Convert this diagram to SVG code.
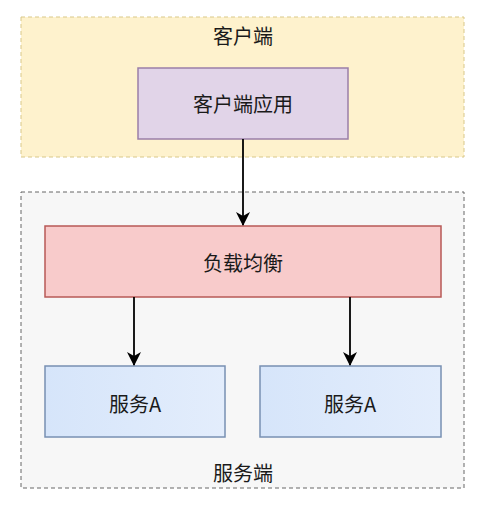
<svg xmlns="http://www.w3.org/2000/svg" width="479" height="506" viewBox="0 0 479 506">
<style>
text{font-family:"Noto Sans CJK SC","Noto Sans",sans-serif;font-size:20px;fill:#1a1a1a;text-anchor:middle;dominant-baseline:central}
.edge{stroke:#000;stroke-width:1.8;fill:none}
</style>
<defs>
<marker id="arr" viewBox="0 0 14 14" refX="13" refY="7" markerWidth="14" markerHeight="14" markerUnits="userSpaceOnUse" orient="auto">
<path d="M0,0 L14,7 L0,14 L4,7 Z" fill="#000"/>
</marker>
<linearGradient id="blue" x1="0" y1="0" x2="1" y2="0">
<stop offset="0" stop-color="#d6e5fa"/>
<stop offset="1" stop-color="#e3edfc"/>
</linearGradient>
</defs>
<rect width="479" height="506" fill="#fff"/>
<g id="client">
<rect x="21" y="17" width="443" height="140" fill="#fef2cd" stroke="#d9c889" stroke-dasharray="4 3"/>
<text x="243" y="35">客户端</text>
</g>
<g id="server">
<rect x="21" y="192" width="443" height="296" fill="#f7f7f7" stroke="#666" stroke-dasharray="4 3"/>
<text x="243" y="472">服务端</text>
</g>
<g id="app">
<rect x="138" y="68" width="210" height="71" fill="#e1d4e8" stroke="#9a7fa8" stroke-width="1.5"/>
<text x="243" y="103">客户端应用</text>
</g>
<g id="lb">
<rect x="45" y="226" width="396" height="71" fill="#f8cbcb" stroke="#b85a57" stroke-width="1.5"/>
<text x="243" y="262">负载均衡</text>
</g>
<g id="svcA1">
<rect x="45" y="366" width="180" height="71" fill="url(#blue)" stroke="#7890b3" stroke-width="1.5"/>
<text x="135" y="403">服务A</text>
</g>
<g id="svcA2">
<rect x="260" y="366" width="181" height="71" fill="url(#blue)" stroke="#7890b3" stroke-width="1.5"/>
<text x="350" y="403">服务A</text>
</g>
<g id="connectors">
<line class="edge" x1="243" y1="139" x2="243" y2="225" marker-end="url(#arr)"/>
<line class="edge" x1="134" y1="297" x2="134" y2="365" marker-end="url(#arr)"/>
<line class="edge" x1="350" y1="297" x2="350" y2="365" marker-end="url(#arr)"/>
</g>
</svg>
